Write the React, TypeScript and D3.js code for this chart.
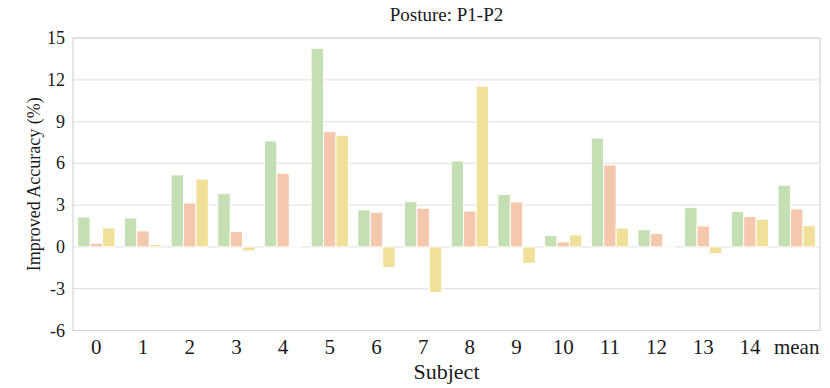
import React from "react";
import * as d3 from "d3";

const subjects = ["0", "1", "2", "3", "4", "5", "6", "7", "8", "9", "10", "11", "12", "13", "14", "mean"];
const seriesA = [2.15, 2.08, 5.17, 3.83, 7.61, 14.26, 2.66, 3.25, 6.17, 3.76, 0.81, 7.82, 1.24, 2.82, 2.56, 4.43];
const seriesB = [0.27, 1.15, 3.16, 1.1, 5.29, 8.28, 2.49, 2.78, 2.58, 3.23, 0.36, 5.89, 0.96, 1.51, 2.18, 2.73];
const seriesC = [1.36, 0.17, 4.88, -0.29, 0.05, 8.02, -1.48, -3.28, 11.54, -1.17, 0.86, 1.36, -0.08, -0.48, 1.99, 1.53];
const yTicks = [-6, -3, 0, 3, 6, 9, 12, 15];
const seriesColors = ["#c4dfb3", "#f5c7ad", "#f1e09a"];

const W = 830, H = 388;
const margin = { top: 38, right: 10, bottom: 57.5, left: 73 };

export default function App() {
  const x = d3.scaleBand().domain(subjects).range([margin.left, W - margin.right]).paddingInner(0).paddingOuter(0);
  const y = d3.scaleLinear().domain([-6, 15]).range([H - margin.bottom, margin.top]);
  const keys = ["a", "b", "c"];
  const inner = d3.scaleBand().domain(keys).range([x.bandwidth() * 0.1, x.bandwidth() * 0.9]);
  const all = [seriesA, seriesB, seriesC];
  const font = "'Liberation Serif', 'Times New Roman', serif";

  return (
    <svg width={W} height={H} style={{ position: "absolute", left: 0, top: 0 }} fontFamily={font}>
      <rect x={0} y={0} width={W} height={H} fill="#fff" />
      {/* grid */}
      {yTicks.map((t) => (
        <line key={t} x1={margin.left} x2={W - margin.right} y1={y(t)} y2={y(t)} stroke="#e3e3e3" strokeWidth={1.2} />
      ))}
      {/* bars */}
      {all.map((vals, si) => (
        <g key={si} fill={seriesColors[si]}>
          {vals.map((v, i) => (
            <rect
              key={i}
              x={(x(subjects[i]) ?? 0) + (inner(keys[si]) ?? 0)}
              y={y(Math.max(0, v))}
              width={inner.bandwidth()}
              height={Math.abs(y(v) - y(0))}
              stroke="#fff"
              strokeWidth={1}
            />
          ))}
        </g>
      ))}
      {/* frame */}
      <rect
        x={margin.left}
        y={margin.top}
        width={W - margin.left - margin.right}
        height={H - margin.top - margin.bottom}
        fill="none"
        stroke="#d4d4d4"
        strokeWidth={1.2}
      />
      {/* y ticks */}
      {yTicks.map((t) => (
        <text key={t} x={margin.left - 8} y={y(t)} textAnchor="end" dominantBaseline="central" fontSize={18} fill="#1a1a1a">
          {t}
        </text>
      ))}
      {/* x ticks */}
      {subjects.map((s) => (
        <text key={s} x={(x(s) ?? 0) + x.bandwidth() / 2} y={354} textAnchor="middle" fontSize={21} fill="#1a1a1a">
          {s}
        </text>
      ))}
      <text x={(margin.left + W - margin.right) / 2} y={379} textAnchor="middle" fontSize={22} fill="#1a1a1a">
        Subject
      </text>
      <text
        transform={`translate(40,${(margin.top + H - margin.bottom) / 2}) rotate(-90)`}
        textAnchor="middle"
        fontSize={18}
        fill="#1a1a1a"
      >
        Improved Accuracy (%)
      </text>
      <text x={(margin.left + W - margin.right) / 2} y={21} textAnchor="middle" fontSize={19} fill="#1a1a1a">
        Posture: P1-P2
      </text>
    </svg>
  );
}
